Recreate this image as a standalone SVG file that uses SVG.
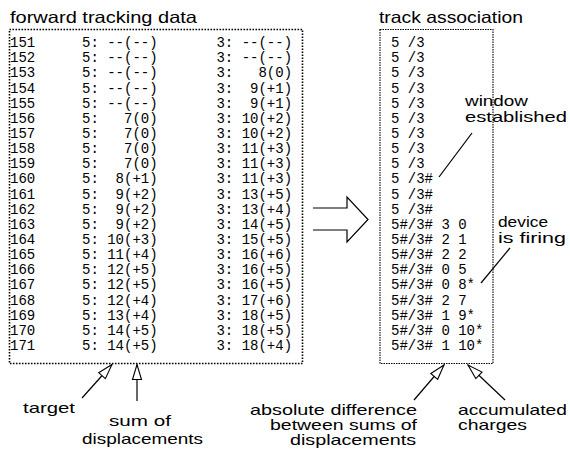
<svg xmlns="http://www.w3.org/2000/svg" width="570" height="459" viewBox="0 0 570 459">
  <style>
    .bg { fill: #fff; }
    .title { font-family: "Liberation Sans", Arial, sans-serif; font-size: 16.5px; fill: #000; }
    .label { font-family: "Liberation Sans", Arial, sans-serif; font-size: 15px; fill: #000; }
    .mono { font-family: "Liberation Mono", "DejaVu Sans Mono", monospace; font-size: 14px; fill: #000; white-space: pre; }
    .box-left { fill: none; stroke: #000; stroke-width: 1.6; stroke-dasharray: 1.6 1.4; }
    .box-right { fill: none; stroke: #000; stroke-width: 1.1; stroke-dasharray: 1.5 1; }
    .line { fill: none; stroke: #000; stroke-width: 1.2; }
    .big-arrow { fill: #fff; stroke: #000; stroke-width: 1.2; stroke-linejoin: miter; }
  </style>
  <defs>
    <marker id="open-head" viewBox="-1 -6 17 12" refX="15" refY="0" markerWidth="17" markerHeight="12" markerUnits="userSpaceOnUse" orient="auto">
      <path d="M0,-4.5 L15,0 L0,4.5 Z" fill="#fff" stroke="#000" stroke-width="1.1"/>
    </marker>
  </defs>

  <rect class="bg" x="0" y="0" width="570" height="459"/>

  <!-- forward tracking data table -->
  <g id="forward-data" xml:space="preserve">
    <text class="title" x="10" y="23" textLength="187" lengthAdjust="spacingAndGlyphs">forward tracking data</text>
    <rect class="box-left" x="9.5" y="29.5" width="293" height="334"/>
    <text class="mono" x="10" y="47">151</text><text class="mono" x="82" y="47">5: --(--)       3: --(--)</text>
    <text class="mono" x="10" y="62.2">152</text><text class="mono" x="82" y="62.2">5: --(--)       3: --(--)</text>
    <text class="mono" x="10" y="77.3">153</text><text class="mono" x="82" y="77.3">5: --(--)       3:   8(0)</text>
    <text class="mono" x="10" y="92.5">154</text><text class="mono" x="82" y="92.5">5: --(--)       3:  9(+1)</text>
    <text class="mono" x="10" y="107.6">155</text><text class="mono" x="82" y="107.6">5: --(--)       3:  9(+1)</text>
    <text class="mono" x="10" y="122.8">156</text><text class="mono" x="82" y="122.8">5:   7(0)       3: 10(+2)</text>
    <text class="mono" x="10" y="137.9">157</text><text class="mono" x="82" y="137.9">5:   7(0)       3: 10(+2)</text>
    <text class="mono" x="10" y="153.1">158</text><text class="mono" x="82" y="153.1">5:   7(0)       3: 11(+3)</text>
    <text class="mono" x="10" y="168.2">159</text><text class="mono" x="82" y="168.2">5:   7(0)       3: 11(+3)</text>
    <text class="mono" x="10" y="183.4">160</text><text class="mono" x="82" y="183.4">5:  8(+1)       3: 11(+3)</text>
    <text class="mono" x="10" y="198.5">161</text><text class="mono" x="82" y="198.5">5:  9(+2)       3: 13(+5)</text>
    <text class="mono" x="10" y="213.7">162</text><text class="mono" x="82" y="213.7">5:  9(+2)       3: 13(+4)</text>
    <text class="mono" x="10" y="228.8">163</text><text class="mono" x="82" y="228.8">5:  9(+2)       3: 14(+5)</text>
    <text class="mono" x="10" y="244">164</text><text class="mono" x="82" y="244">5: 10(+3)       3: 15(+5)</text>
    <text class="mono" x="10" y="259.1">165</text><text class="mono" x="82" y="259.1">5: 11(+4)       3: 16(+6)</text>
    <text class="mono" x="10" y="274.3">166</text><text class="mono" x="82" y="274.3">5: 12(+5)       3: 16(+5)</text>
    <text class="mono" x="10" y="289.4">167</text><text class="mono" x="82" y="289.4">5: 12(+5)       3: 16(+5)</text>
    <text class="mono" x="10" y="304.6">168</text><text class="mono" x="82" y="304.6">5: 12(+4)       3: 17(+6)</text>
    <text class="mono" x="10" y="319.7">169</text><text class="mono" x="82" y="319.7">5: 13(+4)       3: 18(+5)</text>
    <text class="mono" x="10" y="334.9">170</text><text class="mono" x="82" y="334.9">5: 14(+5)       3: 18(+5)</text>
    <text class="mono" x="10" y="350">171</text><text class="mono" x="82" y="350">5: 14(+5)       3: 18(+4)</text>
  </g>

  <!-- track association table -->
  <g id="track-assoc" xml:space="preserve">
    <text class="title" x="379" y="23" textLength="144" lengthAdjust="spacingAndGlyphs">track association</text>
    <rect class="box-right" x="380" y="29.5" width="113" height="334"/>
    <text class="mono" x="391" y="47">5 /3</text>
    <text class="mono" x="391" y="62.2">5 /3</text>
    <text class="mono" x="391" y="77.3">5 /3</text>
    <text class="mono" x="391" y="92.5">5 /3</text>
    <text class="mono" x="391" y="107.6">5 /3</text>
    <text class="mono" x="391" y="122.8">5 /3</text>
    <text class="mono" x="391" y="137.9">5 /3</text>
    <text class="mono" x="391" y="153.1">5 /3</text>
    <text class="mono" x="391" y="168.2">5 /3</text>
    <text class="mono" x="391" y="183.4">5 /3#</text>
    <text class="mono" x="391" y="198.5">5 /3#</text>
    <text class="mono" x="391" y="213.7">5 /3#</text>
    <text class="mono" x="391" y="228.8">5#/3# 3 0</text>
    <text class="mono" x="391" y="244">5#/3# 2 1</text>
    <text class="mono" x="391" y="259.1">5#/3# 2 2</text>
    <text class="mono" x="391" y="274.3">5#/3# 0 5</text>
    <text class="mono" x="391" y="289.4">5#/3# 0 8*</text>
    <text class="mono" x="391" y="304.6">5#/3# 2 7</text>
    <text class="mono" x="391" y="319.7">5#/3# 1 9*</text>
    <text class="mono" x="391" y="334.9">5#/3# 0 10*</text>
    <text class="mono" x="391" y="350">5#/3# 1 10*</text>
  </g>

  <!-- annotation labels -->
  <g id="label-target">
    <text class="label" x="23" y="413" textLength="52" lengthAdjust="spacingAndGlyphs">target</text>
  </g>
  <g id="label-sum">
    <text class="label" x="109" y="426" textLength="62" lengthAdjust="spacingAndGlyphs">sum of</text>
    <text class="label" x="82" y="444" textLength="121" lengthAdjust="spacingAndGlyphs">displacements</text>
  </g>
  <g id="label-window">
    <text class="label" x="465" y="106" textLength="63" lengthAdjust="spacingAndGlyphs">window</text>
    <text class="label" x="465" y="122" textLength="102" lengthAdjust="spacingAndGlyphs">established</text>
  </g>
  <g id="label-firing">
    <text class="label" x="498" y="227" textLength="50" lengthAdjust="spacingAndGlyphs">device</text>
    <text class="label" x="498" y="243" textLength="68" lengthAdjust="spacingAndGlyphs">is firing</text>
  </g>
  <g id="label-difference">
    <text class="label" x="250" y="415" textLength="167" lengthAdjust="spacingAndGlyphs">absolute difference</text>
    <text class="label" x="270" y="430" textLength="147" lengthAdjust="spacingAndGlyphs">between sums of</text>
    <text class="label" x="290" y="445" textLength="126" lengthAdjust="spacingAndGlyphs">displacements</text>
  </g>
  <g id="label-charges">
    <text class="label" x="458" y="415" textLength="109" lengthAdjust="spacingAndGlyphs">accumulated</text>
    <text class="label" x="458" y="430" textLength="69" lengthAdjust="spacingAndGlyphs">charges</text>
  </g>

  <!-- connectors -->
  <g id="connectors">
    <path class="big-arrow" d="M313,208 L347,208 L347,197 L368,219.5 L347,242 L347,230 L313,230"/>
    <line class="line" x1="472" y1="133" x2="439" y2="177"/>
    <line class="line" x1="510" y1="248" x2="481" y2="283"/>
    <line class="line" x1="82" y1="398" x2="112" y2="364.5" marker-end="url(#open-head)"/>
    <line class="line" x1="137" y1="401" x2="137" y2="364.5" marker-end="url(#open-head)"/>
    <line class="line" x1="414" y1="400" x2="444" y2="365" marker-end="url(#open-head)"/>
    <line class="line" x1="505" y1="400" x2="468" y2="365" marker-end="url(#open-head)"/>
  </g>
</svg>
